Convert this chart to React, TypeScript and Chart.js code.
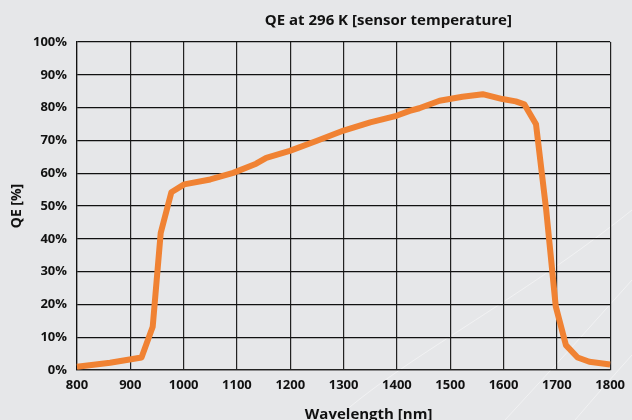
import React, { useEffect, useRef } from "react";
import { Chart, registerables } from "chart.js";

Chart.register(...registerables);

const wavelengths: number[] = [800, 862, 921, 942, 957, 977, 1001, 1050, 1093, 1136, 1155, 1199, 1249, 1300, 1350, 1399, 1424, 1442, 1480, 1523, 1561, 1598, 1623, 1639, 1661, 1680, 1698, 1717, 1739, 1761, 1800];
const qeValues: number[] = [1, 2.2, 3.8, 13.2, 41.8, 54.2, 56.6, 58.1, 60.1, 62.9, 64.7, 66.8, 69.8, 73, 75.5, 77.5, 79.0, 79.8, 82.1, 83.3, 84.1, 82.6, 81.9, 81.0, 74.9, 48.9, 19.4, 7.6, 3.8, 2.5, 1.7];
const xTickValues: number[] = [800, 900, 1000, 1100, 1200, 1300, 1400, 1500, 1600, 1700, 1800];
const yTickValues: number[] = [0, 10, 20, 30, 40, 50, 60, 70, 80, 90, 100];

const titleText = "QE at 296 K [sensor temperature]";
const xTitle = "Wavelength [nm]";
const yTitle = "QE [%]";

const FONT = "'Open Sans', 'Noto Sans', sans-serif";
const BG = "#e6e7e9";
const LINE = "#f08233";

const decorPlugin = {
  id: "decor",
  beforeDraw(chart: any) {
    const ctx = chart.ctx;
    ctx.save();
    ctx.fillStyle = BG;
    ctx.fillRect(0, 0, chart.width, chart.height);
    ctx.strokeStyle = "rgba(255,255,255,0.45)";
    ctx.lineWidth = 1;
    ctx.beginPath();
    ctx.moveTo(335, 420);
    ctx.bezierCurveTo(400, 360, 520, 300, 632, 210);
    ctx.stroke();
    ctx.beginPath();
    ctx.moveTo(505, 420);
    ctx.quadraticCurveTo(570, 350, 632, 280);
    ctx.stroke();
    ctx.beginPath();
    ctx.moveTo(575, 420);
    ctx.quadraticCurveTo(605, 385, 632, 355);
    ctx.stroke();
    ctx.restore();
  },
  afterDraw(chart: any) {
    const ctx = chart.ctx;
    const area = chart.chartArea;
    const w = area.right - area.left;
    ctx.save();
    ctx.fillStyle = "#111";
    ctx.textAlign = "center";
    ctx.textBaseline = "middle";
    ctx.font = `bold 15px ${FONT}`;
    ctx.fillText(titleText, area.left + w * 0.584, 21);
    ctx.fillText(xTitle, area.left + w * 0.547, 415);
    ctx.restore();
  },
};

export default function App() {
  const ref = useRef<HTMLCanvasElement | null>(null);

  useEffect(() => {
    if (!ref.current) return;
    const chart = new Chart(ref.current, {
      type: "line",
      data: {
        datasets: [
          {
            data: wavelengths.map((w, i) => ({ x: w, y: qeValues[i] })),
            borderColor: LINE,
            backgroundColor: LINE,
            borderWidth: 6,
            pointRadius: 0,
            tension: 0,
            borderJoinStyle: "round",
            borderCapStyle: "butt",
            clip: false,
          } as any,
        ],
      },
      plugins: [decorPlugin],
      options: {
        animation: false,
        responsive: false,
        devicePixelRatio: 1,
        layout: { padding: { top: 42, right: 21, left: 0, bottom: 0 } },
        plugins: {
          legend: { display: false },
          tooltip: { enabled: false },
          title: { display: false },
        },
        scales: {
          x: {
            type: "linear",
            min: 800,
            max: 1800,
            afterBuildTicks: (s: any) => {
              s.ticks = xTickValues.map((v) => ({ value: v }));
            },
            afterFit: (s: any) => {
              s.height = 50;
            },
            border: { display: true, color: "#222", width: 1.2 },
            grid: { color: "#222", lineWidth: 1.2, drawTicks: false },
            ticks: {
              padding: 7,
              color: "#111",
              font: { family: FONT, size: 13, weight: "bold" },
              maxRotation: 0,
              callback: (v: any) => String(v),
            },
            title: { display: false },
          },
          y: {
            type: "linear",
            min: 0,
            max: 100,
            afterBuildTicks: (s: any) => {
              s.ticks = yTickValues.map((v) => ({ value: v }));
            },
            afterFit: (s: any) => {
              s.width = 77;
            },
            border: { display: true, color: "#111", width: 1.2 },
            grid: { color: "#111", lineWidth: 1.2, drawTicks: false },
            ticks: {
              padding: 10,
              color: "#111",
              font: { family: FONT, size: 13, weight: "bold" },
              callback: (v: any) => `${v}%`,
            },
            title: {
              display: true,
              text: yTitle,
              color: "#111",
              font: { family: FONT, size: 14, weight: "bold" },
              padding: { top: 9, bottom: 0 },
            },
          },
        },
      } as any,
    });
    return () => chart.destroy();
  }, []);

  return (
    <div style={{ position: "fixed", left: 0, top: 0, width: 632, height: 420, background: BG }}>
      <canvas ref={ref} width={632} height={420} style={{ width: 632, height: 420, display: "block" }} />
    </div>
  );
}
